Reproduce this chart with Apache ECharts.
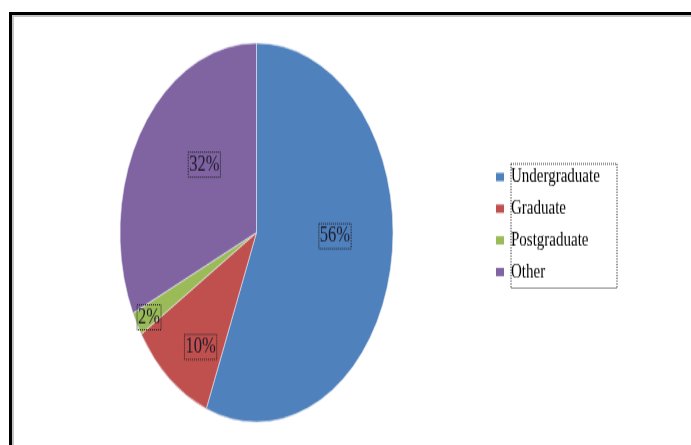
<!DOCTYPE html>
<html>
<head>
<meta charset="utf-8">
<script src="https://cdn.jsdelivr.net/npm/echarts@6/dist/echarts.min.js"></script>
<style>
  html, body { margin: 0; padding: 0; background: #fff; }
  #wrap { position: relative; width: 691px; height: 445px; overflow: hidden; }
  #frame { position: absolute; left: 9px; top: 12px; right: -10px; bottom: -10px;
           border-top: 3px solid #000; border-left: 3px solid #000; }
  #frame2 { position: absolute; left: 0; top: 0; right: 0; bottom: 0;
            border-top: 2px solid #c4c4c4; border-left: 2px solid #c4c4c4; }
  /* the reference is stretched vertically, so draw at normal ratio then scale */
  #main { position: absolute; left: 0; top: 0; width: 691px; height: 320.5px;
          transform: scaleY(1.3883); transform-origin: 0 0; }
</style>
</head>
<body>
<div id="wrap">
  <div id="frame"><div id="frame2"></div></div>
  <div id="main"></div>
</div>
<script>
var categories = ['Undergraduate', 'Graduate', 'Postgraduate', 'Other'];
var values = [56, 10, 2, 32];
var colors = ['#4f81bd', '#c0504d', '#9bbb59', '#8064a2'];
// nudges of the data labels (Excel moved them a bit)
var labelDx = [8.5, -10.5, -45, 8];
var labelDy = [-10.7, 27.5, 26.7, -10.7];

var chart = echarts.init(document.getElementById('main'));

var pieData = [];
for (var i = 0; i < categories.length; i++) {
  pieData.push({ name: categories[i], value: values[i], itemStyle: { color: colors[i] } });
}

var option = {
  animation: false,
  legend: {
    orient: 'vertical',
    left: 496,
    top: 120,
    padding: 0,
    itemWidth: 8,
    itemHeight: 6,
    itemGap: 7.8,
    icon: 'rect',
    data: categories,
    itemStyle: { borderWidth: 0 },
    textStyle: {
      fontFamily: 'Liberation Serif',
      fontSize: 15,
      lineHeight: 15,
      color: '#000',
      padding: [0, 0, 0, 2]
    }
  },
  graphic: [{
    type: 'rect',
    shape: { x: 511, y: 118, width: 106, height: 89.5 },
    style: { fill: 'none', stroke: '#333', lineWidth: 1, lineDash: [1, 1] },
    z: 10
  }],
  series: [{
    type: 'pie',
    center: [256.5, 167.5],
    radius: 136.5,
    startAngle: 90,
    clockwise: true,
    data: pieData,
    itemStyle: { borderColor: '#e8e8f4', borderWidth: 0.6 },
    label: {
      show: true,
      position: 'inside',
      formatter: function (p) { return p.value + '%'; },
      fontFamily: 'Liberation Serif',
      fontSize: 16.5,
      color: '#1c1a2a',
      padding: [1, 1, 0, 1],
      borderType: 'dotted',
      borderColor: '#222',
      borderWidth: 1
    },
    labelLayout: function (params) {
      return { dx: labelDx[params.dataIndex], dy: labelDy[params.dataIndex] };
    },
    emphasis: { disabled: true }
  }]
};

chart.setOption(option);
</script>
</body>
</html>
